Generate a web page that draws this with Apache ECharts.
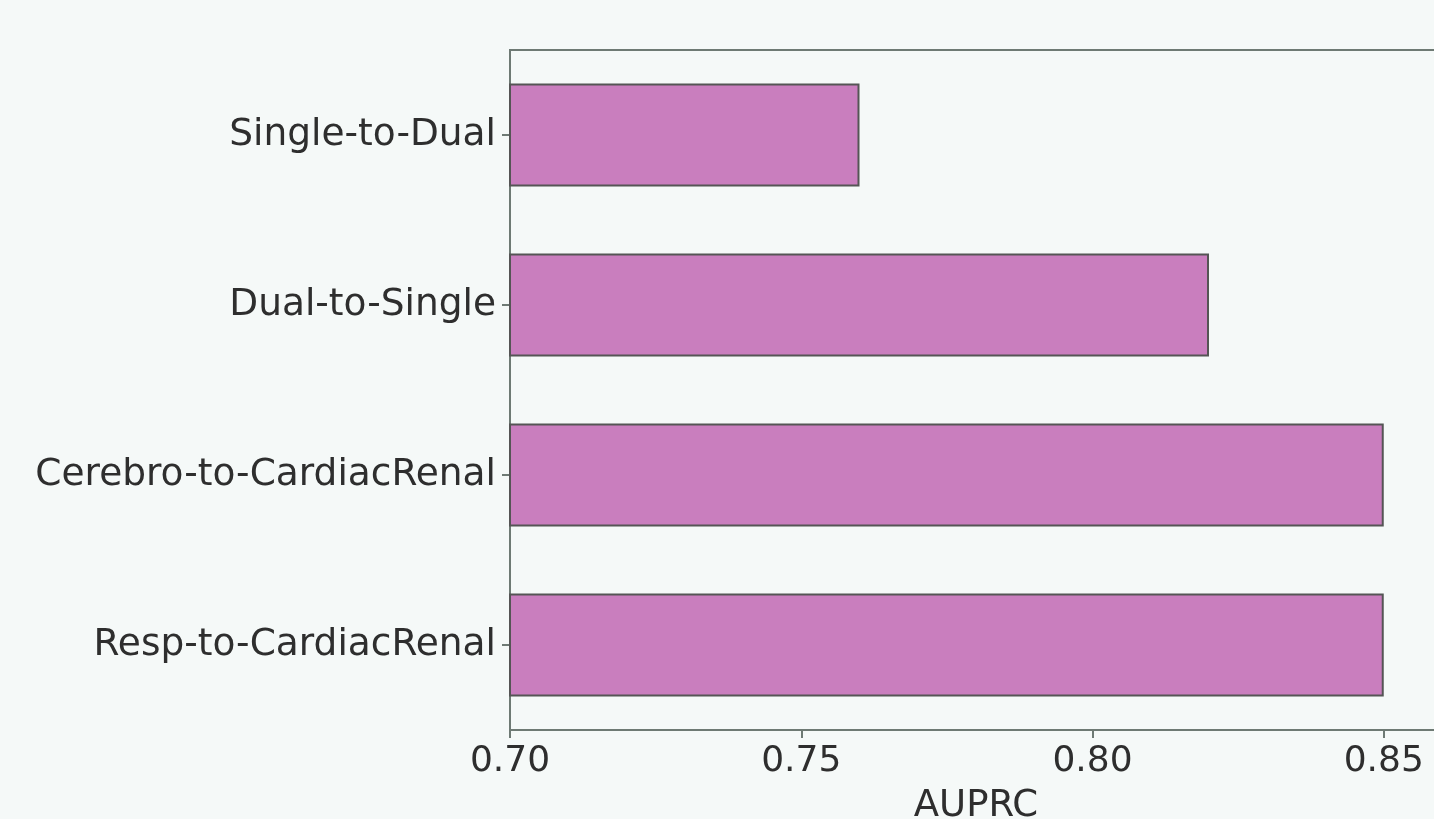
<!DOCTYPE html>
<html>
<head>
<meta charset="utf-8">
<script src="https://cdn.jsdelivr.net/npm/echarts@6/dist/echarts.min.js"></script>
<style>
html,body{margin:0;padding:0;background:#f5f9f8;}
#chart{width:1434px;height:819px;}
</style>
</head>
<body>
<div id="chart"></div>
<script>
const categories = ["Single-to-Dual", "Dual-to-Single", "Cerebro-to-CardiacRenal", "Resp-to-CardiacRenal"];
const auprcValues = [0.76, 0.82, 0.85, 0.85];
const xTicks = [0.70, 0.75, 0.80, 0.85];

const chart = echarts.init(document.getElementById('chart'));
const textColor = '#2e2e2e';
const axisColor = '#6e7a74';
chart.setOption({
  backgroundColor: '#f5f9f8',
  animation: false,
  grid: {
    left: 510, top: 50, height: 680, width: 932,
    outerBoundsMode: 'none', containLabel: false,
    show: true, borderColor: axisColor, borderWidth: 2, backgroundColor: 'transparent'
  },
  xAxis: {
    type: 'value',
    min: 0.70, max: 0.86, interval: 0.05,
    name: 'AUPRC', nameLocation: 'middle', nameGap: 58,
    nameTextStyle: { fontFamily: 'DejaVu Sans', fontSize: 37, color: textColor },
    axisLine: { show: true, lineStyle: { color: axisColor, width: 2 } },
    axisTick: { show: true, length: 8, lineStyle: { color: axisColor, width: 2 } },
    splitLine: { show: false },
    axisLabel: {
      fontFamily: 'DejaVu Sans', fontSize: 36, color: textColor, margin: 14,
      showMaxLabel: false,
      formatter: function (v) {
        const hit = xTicks.find(t => Math.abs(t - v) < 1e-9);
        return hit === undefined ? '' : hit.toFixed(2);
      }
    }
  },
  yAxis: {
    type: 'category',
    data: categories,
    inverse: true,
    axisLine: { show: true, lineStyle: { color: axisColor, width: 2 } },
    axisTick: { show: true, alignWithLabel: true, length: 8, lineStyle: { color: axisColor, width: 2 } },
    axisLabel: { fontFamily: 'DejaVu Sans', fontSize: 37.5, color: textColor, margin: 14 }
  },
  series: [{
    type: 'bar',
    data: auprcValues,
    barWidth: 103,
    itemStyle: { color: '#c97ebe', borderColor: '#555555', borderWidth: 2 }
  }]
});
</script>
</body>
</html>
